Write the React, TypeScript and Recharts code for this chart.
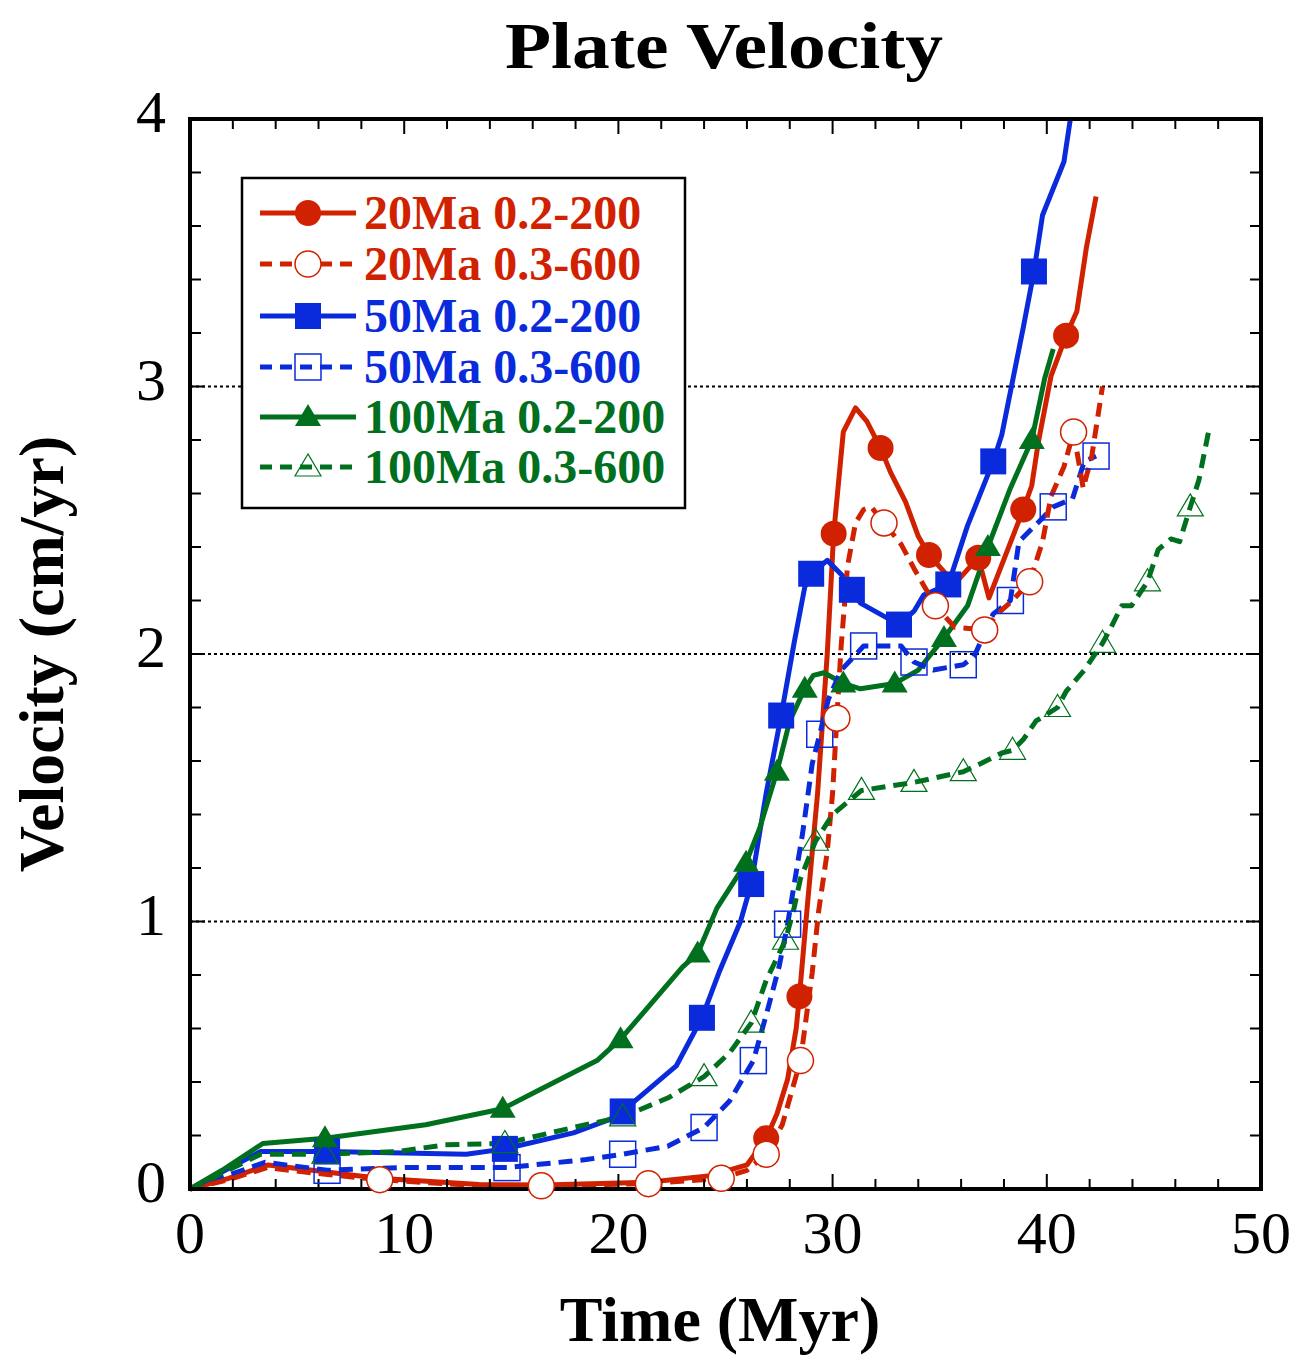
import React from 'react';
import { LineChart, Line, XAxis, YAxis, ReferenceLine } from 'recharts';

type Pt = [number, number, number?];

// [time (Myr), velocity (cm/yr), marker?]
const red20Low: Pt[] = [
  [0, 0], [1.8, 0.04], [3.65, 0.09], [5.7, 0.07], [8.8, 0.04], [13.5, 0.017], [16.5, 0.015],
  [21.4, 0.025], [24.3, 0.05], [26.0, 0.09], [26.9, 0.19, 1], [27.4, 0.28], [27.9, 0.41],
  [28.3, 0.6], [28.45, 0.72, 1], [28.8, 1.04], [29.3, 1.48], [29.75, 2.0], [30.05, 2.45, 1],
  [30.5, 2.83], [31.07, 2.92], [31.6, 2.87], [32.24, 2.77, 1], [32.7, 2.68], [33.4, 2.57],
  [34.0, 2.44], [34.5, 2.37, 1], [35.4, 2.29], [35.9, 2.28], [36.8, 2.36, 1], [37.3, 2.21],
  [38.9, 2.54, 1], [39.3, 2.63], [39.6, 2.79], [40.2, 3.04], [40.9, 3.19, 1], [41.4, 3.28],
  [41.85, 3.52], [42.3, 3.71],
];

const red20High: Pt[] = [
  [0, 0], [1.8, 0.035], [3.6, 0.08], [5.7, 0.06], [8.86, 0.035, 1], [13.5, 0.012],
  [16.4, 0.012, 1], [21.4, 0.02, 1], [24.8, 0.04, 1], [26.0, 0.07], [26.9, 0.13, 1],
  [27.65, 0.24], [28.5, 0.48, 1], [29.05, 0.81], [29.35, 1.04], [29.75, 1.26], [30.0, 1.48],
  [30.2, 1.76, 1], [30.4, 2.03], [30.7, 2.33], [31.07, 2.49], [31.45, 2.54], [31.8, 2.55],
  [32.4, 2.49, 1], [33.2, 2.41], [33.8, 2.32], [34.8, 2.18, 1], [35.7, 2.1], [37.1, 2.09, 1],
  [37.7, 2.15], [38.4, 2.2], [39.2, 2.27, 1], [39.8, 2.42], [40.2, 2.59], [40.8, 2.7],
  [41.25, 2.83, 1], [41.7, 2.62], [42.1, 2.74], [42.6, 3.0],
];

const blue50Low: Pt[] = [
  [0, 0], [3.3, 0.14], [6.4, 0.14, 1], [12.9, 0.13], [14.7, 0.15, 1], [17.9, 0.21], [19.6, 0.26],
  [20.2, 0.29, 1], [22.7, 0.46], [23.9, 0.64, 1], [24.7, 0.81], [25.7, 1.0], [26.2, 1.14, 1],
  [26.9, 1.48], [27.6, 1.77, 1], [28.2, 2.04], [28.7, 2.25], [29.0, 2.3, 1], [29.75, 2.35],
  [30.5, 2.29], [30.9, 2.24, 1], [31.3, 2.19], [33.1, 2.11, 1], [33.8, 2.16], [34.25, 2.22],
  [35.4, 2.26, 1], [36.3, 2.48], [37.5, 2.72, 1], [37.9, 2.82], [38.9, 3.22], [39.4, 3.43, 1],
  [39.8, 3.64], [40.8, 3.84], [41.1, 4.0],
];

const blue50High: Pt[] = [
  [0, 0], [3.5, 0.1], [6.4, 0.07, 1], [9.7, 0.08], [14.8, 0.08, 1], [18.5, 0.11], [20.2, 0.13, 1],
  [22.3, 0.16], [24.0, 0.23, 1], [25.2, 0.33], [26.3, 0.48, 1], [26.9, 0.65], [27.5, 0.83],
  [27.9, 0.99, 1], [28.6, 1.33], [29.05, 1.59], [29.4, 1.7, 1], [29.8, 1.83], [30.4, 1.94],
  [31.0, 1.99], [31.45, 2.03, 1], [33.2, 2.03], [33.8, 1.97, 1], [34.7, 1.94], [36.1, 1.96, 1],
  [36.6, 1.99], [37.5, 2.15], [38.3, 2.2, 1], [38.7, 2.42], [39.7, 2.5], [40.3, 2.55, 1],
  [41.2, 2.58], [41.75, 2.72], [42.3, 2.74, 1],
];

const green100Low: Pt[] = [
  [0, 0], [1.5, 0.07], [3.4, 0.17], [6.3, 0.19, 1], [11.0, 0.24], [14.6, 0.3, 1], [16.3, 0.37],
  [19.0, 0.48], [20.1, 0.56, 1], [23.0, 0.83], [23.7, 0.88, 1], [24.6, 1.05], [25.96, 1.22, 1],
  [26.6, 1.35], [27.4, 1.56, 1], [28.0, 1.75], [28.7, 1.87, 1], [29.1, 1.92], [29.6, 1.93],
  [30.5, 1.89, 1], [31.3, 1.87], [32.9, 1.89, 1], [34.0, 1.94], [35.2, 2.06, 1], [36.3, 2.18],
  [37.25, 2.4, 1], [38.3, 2.62], [39.3, 2.8, 1], [39.9, 3.03], [40.3, 3.14],
];

const green100High: Pt[] = [
  [0, 0], [3.3, 0.13], [6.3, 0.13, 1], [9.7, 0.14], [11.9, 0.165], [14.7, 0.17, 1], [17.9, 0.23],
  [20.2, 0.27, 1], [22.3, 0.34], [24.0, 0.42, 1], [25.2, 0.51], [26.2, 0.62, 1], [26.9, 0.78],
  [27.8, 0.93, 1], [28.2, 1.05], [28.5, 1.16], [29.2, 1.3, 1], [30.0, 1.4], [31.35, 1.49, 1],
  [33.8, 1.52, 1], [36.1, 1.56, 1], [36.9, 1.59], [37.9, 1.63], [38.4, 1.64, 1], [38.9, 1.68],
  [39.5, 1.75], [40.5, 1.8, 1], [40.9, 1.86], [41.75, 1.94], [42.6, 2.04, 1], [43.0, 2.1],
  [43.5, 2.18], [43.95, 2.18], [44.7, 2.27, 1], [45.2, 2.39], [45.8, 2.43], [46.2, 2.42],
  [46.7, 2.55, 1], [47.1, 2.65], [47.55, 2.83],
];

const xMajor = [0, 10, 20, 30, 40, 50];
const xMinor = [2, 4, 6, 8, 12, 14, 16, 18, 22, 24, 26, 28, 32, 34, 36, 38, 42, 44, 46, 48];
const yMajor = [0, 1, 2, 3, 4];
const yMinor = [0.2, 0.4, 0.6, 0.8, 1.2, 1.4, 1.6, 1.8, 2.2, 2.4, 2.6, 2.8, 3.2, 3.4, 3.6, 3.8];
const gridLevels = [1, 2, 3];

const RED = '#d02200';
const BLUE = '#0a2bdc';
const GREEN = '#00701f';
const SERIF = '"Liberation Serif", "Times New Roman", serif';

type Shape = 'circle' | 'square' | 'triangle';

const series = [
  { name: '20Ma 0.2-200', pts: red20Low, color: RED, dashed: false, shape: 'circle' as Shape, filled: true },
  { name: '20Ma 0.3-600', pts: red20High, color: RED, dashed: true, shape: 'circle' as Shape, filled: false },
  { name: '50Ma 0.2-200', pts: blue50Low, color: BLUE, dashed: false, shape: 'square' as Shape, filled: true },
  { name: '50Ma 0.3-600', pts: blue50High, color: BLUE, dashed: true, shape: 'square' as Shape, filled: false },
  { name: '100Ma 0.2-200', pts: green100Low, color: GREEN, dashed: false, shape: 'triangle' as Shape, filled: true },
  { name: '100Ma 0.3-600', pts: green100High, color: GREEN, dashed: true, shape: 'triangle' as Shape, filled: false },
];

// stacking order seen in the figure
const drawOrder = [0, 2, 4, 3, 1, 5];

const Marker = ({ shape, cx, cy, color, filled }: any) => {
  if (shape === 'circle') {
    return <circle cx={cx} cy={cy} r={13} fill={filled ? color : '#fff'} stroke={color} strokeWidth={filled ? 0 : 1.5} />;
  }
  if (shape === 'square') {
    return (
      <rect x={cx - 13} y={cy - 13} width={26} height={26}
        fill={filled ? color : 'none'} stroke={color} strokeWidth={filled ? 0 : 1.5} />
    );
  }
  return (
    <polygon points={`${cx},${cy - 13} ${cx - 13},${cy + 9} ${cx + 13},${cy + 9}`}
      fill={filled ? color : 'none'} stroke={color} strokeWidth={filled ? 0 : 1.2} />
  );
};

const makeDot = (s: any) => (p: any) => {
  const { cx, cy, payload, index } = p;
  if (!payload || !payload.m) return <g key={`e${index}`} />;
  return <Marker key={`d${index}`} shape={s.shape} cx={cx} cy={cy} color={s.color} filled={s.filled} />;
};

const XTick = ({ x, payload }: any) => (
  <text x={x} y={1253} textAnchor="middle" fontSize={60} fontFamily={SERIF} fill="#000">
    {payload.value}
  </text>
);

const YTick = ({ y, payload }: any) => (
  <text x={166} y={y + 13} textAnchor="end" fontSize={60} fontFamily={SERIF} fill="#000">
    {payload.value}
  </text>
);

const NoLabel = () => <g />;

const frame = { stroke: '#000', strokeWidth: 4, strokeLinecap: 'square' as const };
const tickStroke = { stroke: '#000', strokeWidth: 2 };

const legendRows = [213, 264, 316, 367, 417, 467];

export default function App() {
  return (
    <div style={{ position: 'absolute', left: 0, top: 0, width: 1293, height: 1357, background: '#fff' }}>
      <LineChart width={1293} height={1357} margin={{ top: 119, right: 32, bottom: 168, left: 190 }}>
        <XAxis xAxisId="b" dataKey="x" type="number" domain={[0, 50]} ticks={xMajor} interval={0}
          height={1} mirror tickSize={15} axisLine={frame} tickLine={tickStroke} tick={<XTick />} />
        <XAxis xAxisId="bm" dataKey="x" type="number" domain={[0, 50]} ticks={xMinor} interval={0}
          height={1} mirror tickSize={9} axisLine={false} tickLine={tickStroke} tick={<NoLabel />} allowDataOverflow />
        <XAxis xAxisId="t" orientation="top" dataKey="x" type="number" domain={[0, 50]} ticks={xMajor} interval={0}
          height={1} mirror tickSize={15} axisLine={frame} tickLine={tickStroke} tick={<NoLabel />} allowDataOverflow />
        <XAxis xAxisId="tm" orientation="top" dataKey="x" type="number" domain={[0, 50]} ticks={xMinor} interval={0}
          height={1} mirror tickSize={9} axisLine={false} tickLine={tickStroke} tick={<NoLabel />} allowDataOverflow />
        <YAxis yAxisId="l" dataKey="y" type="number" domain={[0, 4]} ticks={yMajor} interval={0}
          width={1} mirror tickSize={15} axisLine={frame} tickLine={tickStroke} tick={<YTick />} />
        <YAxis yAxisId="lm" type="number" domain={[0, 4]} ticks={yMinor} interval={0}
          width={1} mirror tickSize={10} axisLine={false} tickLine={tickStroke} tick={<NoLabel />} allowDataOverflow />
        <YAxis yAxisId="r" orientation="right" type="number" domain={[0, 4]} ticks={yMajor} interval={0}
          width={1} mirror tickSize={15} axisLine={frame} tickLine={tickStroke} tick={<NoLabel />} allowDataOverflow />
        <YAxis yAxisId="rm" orientation="right" type="number" domain={[0, 4]} ticks={yMinor} interval={0}
          width={1} mirror tickSize={10} axisLine={false} tickLine={tickStroke} tick={<NoLabel />} allowDataOverflow />
        {gridLevels.map((v) => (
          <ReferenceLine key={v} xAxisId="b" yAxisId="l" y={v} stroke="#000" strokeWidth={2} strokeDasharray="3 3" />
        ))}
        {drawOrder.map((i) => {
          const s = series[i];
          return (
            <Line key={s.name} xAxisId="b" yAxisId="l" name={s.name} type="linear" dataKey="y"
              data={s.pts.map(([x, y, m]) => ({ x, y, m: m ? 1 : 0 }))}
              stroke={s.color} strokeWidth={5} strokeDasharray={s.dashed ? '14 8' : undefined}
              strokeLinejoin="round" dot={makeDot(s)} activeDot={false} isAnimationActive={false} />
          );
        })}
      </LineChart>
      <svg width={1293} height={1357} style={{ position: 'absolute', left: 0, top: 0, pointerEvents: 'none' }}>
        <text x={724} y={68} textAnchor="middle" fontSize={66} fontWeight="bold" fontFamily={SERIF}
          textLength={438} lengthAdjust="spacingAndGlyphs">Plate Velocity</text>
        <text x={720} y={1341} textAnchor="middle" fontSize={64} fontWeight="bold" fontFamily={SERIF}>Time (Myr)</text>
        <text transform="translate(63,654) rotate(-90)" textAnchor="middle" fontSize={64} fontWeight="bold"
          fontFamily={SERIF}>Velocity (cm/yr)</text>
        <rect x={242} y={178} width={443} height={330} fill="#fff" stroke="#000" strokeWidth={2.5} />
        {series.map((s, i) => {
          const yc = legendRows[i];
          return (
            <g key={s.name}>
              <line x1={260} x2={356} y1={yc} y2={yc} stroke={s.color} strokeWidth={5}
                strokeDasharray={s.dashed ? '12 8' : undefined} />
              <Marker shape={s.shape} cx={308} cy={yc} color={s.color} filled={s.filled} />
              <text x={364} y={yc + 16} fontSize={48} fontWeight="bold" fontFamily={SERIF} fill={s.color}>
                {s.name}
              </text>
            </g>
          );
        })}
      </svg>
    </div>
  );
}
